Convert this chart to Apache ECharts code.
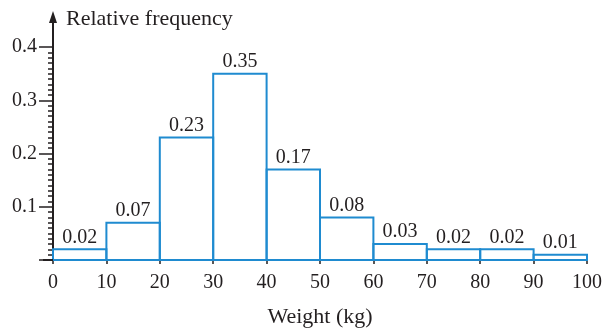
<!DOCTYPE html>
<html>
<head>
<meta charset="utf-8">
<script src="https://cdn.jsdelivr.net/npm/echarts@6/dist/echarts.min.js"></script>
<style>
  html, body { margin: 0; padding: 0; background: #fff; }
  #chart { width: 605px; height: 332px; }
</style>
</head>
<body>
<div id="chart"></div>
<script>
// histogram data
var binEdges = [0, 10, 20, 30, 40, 50, 60, 70, 80, 90, 100];
var relFreq = [0.02, 0.07, 0.23, 0.35, 0.17, 0.08, 0.03, 0.02, 0.02, 0.01];
var yTicks = [0.1, 0.2, 0.3, 0.4];

var barColor = '#1f8bd0';
var inkColor = '#231f20';
var fontFam = "'Liberation Serif', 'DejaVu Serif', serif";

var chart = echarts.init(document.getElementById('chart'));

var bins = relFreq.map(function (v, i) {
  return [binEdges[i], binEdges[i + 1], v];
});

var option = {
  animation: false,
  textStyle: { fontFamily: fontFam, color: inkColor },
  grid: { left: 53, right: 18, top: 47, bottom: 72, outerBoundsMode: 'none', containLabel: false },
  graphic: [{
    type: 'text',
    left: 66,
    top: 8,
    style: { text: 'Relative frequency', font: '22px ' + fontFam, fill: inkColor }
  }],
  xAxis: {
    type: 'value',
    min: binEdges[0],
    max: binEdges[binEdges.length - 1],
    interval: 10,
    name: 'Weight (kg)',
    nameLocation: 'middle',
    nameGap: 46,
    nameTextStyle: { fontSize: 22, color: inkColor, fontFamily: fontFam },
    axisLine: { lineStyle: { color: inkColor, width: 2 } },
    axisTick: { show: true, length: 4, lineStyle: { color: inkColor, width: 1.5 } },
    axisLabel: { fontSize: 20, color: inkColor, margin: 13, fontFamily: fontFam },
    splitLine: { show: false }
  },
  yAxis: {
    type: 'value',
    min: 0,
    max: yTicks[yTicks.length - 1],
    interval: 0.1,
    axisLine: { show: true, lineStyle: { color: inkColor, width: 2 } },
    axisTick: { show: true, length: 14, lineStyle: { color: inkColor, width: 1.5 } },
    minorTick: { show: true, splitNumber: 10, length: 5, lineStyle: { color: inkColor, width: 1.5 } },
    axisLabel: {
      fontSize: 20, color: inkColor, margin: 16, fontFamily: fontFam,
      formatter: function (v) { return v === 0 ? '' : v.toFixed(1); }
    },
    splitLine: { show: false }
  },
  series: [
    {
      type: 'custom',
      clip: false,
      data: bins,
      renderItem: function (params, api) {
        var lo = api.value(0), hi = api.value(1), v = api.value(2);
        var p0 = api.coord([lo, 0]);
        var p1 = api.coord([hi, v]);
        return {
          type: 'group',
          children: [{
            type: 'rect',
            shape: { x: p0[0], y: p1[1], width: p1[0] - p0[0], height: p0[1] - p1[1] },
            style: { fill: 'none', stroke: barColor, lineWidth: 2 }
          }, {
            type: 'text',
            x: (p0[0] + p1[0]) / 2,
            y: p1[1] - 2,
            style: {
              text: v.toFixed(2),
              font: '20px ' + fontFam,
              fill: inkColor,
              align: 'center',
              verticalAlign: 'bottom'
            }
          }]
        };
      }
    },
    {
      // y-axis arrow and the short x-axis stub left of the origin
      type: 'custom',
      clip: false,
      data: [[0, yTicks[yTicks.length - 1]]],
      renderItem: function (params, api) {
        var o = api.coord([0, 0]);
        var top = api.coord([0, api.value(1)]);
        var tipY = top[1] - 36;
        return {
          type: 'group',
          children: [{
            type: 'line',
            shape: { x1: o[0], y1: top[1], x2: o[0], y2: tipY + 8 },
            style: { stroke: inkColor, lineWidth: 2 }
          }, {
            type: 'polygon',
            shape: { points: [[o[0], tipY], [o[0] - 4, tipY + 12], [o[0] + 4, tipY + 12]] },
            style: { fill: inkColor }
          }, {
            type: 'line',
            shape: { x1: o[0] - 10, y1: o[1], x2: o[0], y2: o[1] },
            style: { stroke: inkColor, lineWidth: 2 }
          }]
        };
      }
    }
  ]
};

chart.setOption(option);
</script>
</body>
</html>
